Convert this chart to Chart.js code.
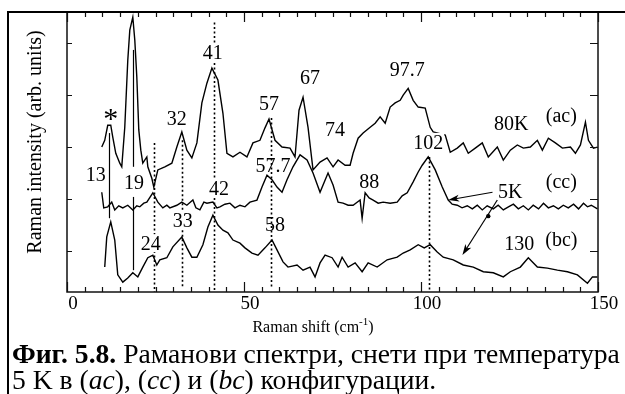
<!DOCTYPE html>
<html><head><meta charset="utf-8">
<script src="https://cdn.jsdelivr.net/npm/chart.js@4"></script>
<style>
html,body{margin:0;padding:0;background:#fff;}
#wrap{position:relative;width:625px;height:394px;overflow:hidden;background:#fff;}
#c{position:absolute;left:0;top:0;}
#frame{position:absolute;left:7px;top:11px;width:640px;height:400px;border-left:2px solid #000;border-top:2px solid #000;pointer-events:none;}
.cap{position:absolute;left:12px;font-family:"Liberation Serif","Times New Roman",serif;color:#000;white-space:nowrap;line-height:1;}
</style></head>
<body>
<div id="wrap">
<canvas id="c" width="625" height="394"></canvas>
<div id="frame"></div>
<div class="cap" id="cap1"><b>Фиг. 5.8.</b> Раманови спектри, снети при температура</div>
<div class="cap" id="cap2">5 K в (<i>ac</i>), (<i>cc</i>) и (<i>bc</i>) конфигурации.</div>
</div>
<script>
// ---------- data (Raman shift in cm^-1, intensity in arb. units, traces offset) ----------
const acShift = [9.82,10.66,11.51,12.36,12.93,13.78,14.91,15.47,16.32,17.17,17.74,18.59,19.15,19.72,20.28,20.85,21.41,22.55,22.83,23.96,24.52,25.66,27.64,29.62,31.03,32.44,33.86,35.27,36.69,38.10,39.52,40.93,42.63,44.05,45.18,46.88,48.86,50.83,52.53,54.51,55.93,57.06,58.76,60.74,63.00,64.41,65.54,66.68,68.09,69.50,71.48,73.46,75.16,76.58,78.56,79.97,80.82,82.24,83.65,85.64,87.05,88.46,89.88,91.29,92.70,94.12,94.97,96.38,97.79,99.21,101.19,102.60,103.45,106.85,108.26,110.24,111.94,113.35,115.33,117.31,119.01,121.56,123.25,125.23,127.21,128.91,130.89,132.87,134.28,135.98,137.96,139.94,142.21,143.62,145.04,146.45,147.30,148.71,149.85];
const acIntensity = [3.00,3.13,3.42,3.42,3.19,2.88,2.69,2.62,3.38,4.67,5.25,5.50,5.06,4.35,3.33,2.94,2.69,2.81,2.62,2.40,2.23,2.56,2.62,2.69,3.00,3.29,2.94,2.79,3.08,3.85,4.23,4.52,4.29,3.65,2.88,2.81,2.90,2.81,3.08,3.13,3.37,3.54,3.13,3.00,2.98,2.81,3.71,3.96,3.38,2.56,2.71,2.79,2.62,2.75,2.65,2.65,2.88,3.17,3.27,3.38,3.46,3.58,3.46,3.77,3.85,3.90,4.00,4.13,3.90,3.77,3.75,3.38,3.29,3.23,2.90,2.98,3.08,2.88,2.98,3.08,2.81,3.00,2.75,2.94,3.04,2.98,3.00,3.13,2.94,3.17,3.08,2.98,3.00,2.88,3.04,3.48,3.13,2.98,3.00];

const ccShift = [9.82,10.38,11.51,12.64,13.49,14.62,15.76,17.17,18.59,19.72,20.57,21.70,22.55,24.25,25.66,27.07,28.20,29.05,31.03,32.44,33.86,35.56,36.41,37.54,38.67,39.52,41.22,42.35,43.20,44.61,46.03,47.44,48.86,50.27,51.68,53.66,55.08,56.49,57.91,59.32,60.74,62.15,63.84,65.83,67.81,69.50,71.48,73.74,75.16,76.58,77.99,79.41,80.82,82.80,83.37,84.22,85.35,86.48,87.90,89.31,91.29,93.27,94.68,96.10,97.79,99.21,100.34,102.04,104.02,106.00,107.69,108.80,110.24,111.60,113.07,114.50,115.90,117.31,118.70,120.42,121.80,123.25,124.70,126.10,127.50,128.91,130.32,131.70,133.20,134.60,135.98,137.40,138.80,140.20,141.60,143.10,144.50,145.90,147.02,148.10,149.85];
const ccIntensity = [2.13,1.83,1.85,1.94,1.79,1.87,1.83,1.88,1.79,1.87,1.85,1.92,1.94,2.12,1.94,1.83,1.88,1.83,1.88,1.94,1.88,1.98,1.83,1.79,1.94,1.92,1.94,1.83,1.85,1.90,1.92,1.83,1.88,1.85,1.94,1.98,2.23,2.46,2.37,2.23,2.13,2.37,2.62,2.85,2.75,2.50,2.13,2.50,2.27,1.94,1.92,1.88,1.88,1.98,1.63,2.12,2.02,1.98,1.92,1.94,1.92,1.94,2.06,2.12,2.33,2.52,2.65,2.81,2.56,2.23,1.98,1.90,1.88,1.83,1.87,1.81,1.88,1.79,1.87,1.81,1.88,1.79,1.85,1.90,1.81,1.87,1.79,1.88,1.81,1.92,1.83,1.87,1.81,1.88,1.83,1.90,1.81,1.92,1.85,1.88,1.81];

const bcShift = [10.66,11.23,12.36,13.49,14.34,15.76,17.17,18.59,20.00,21.41,22.83,24.25,25.37,26.22,28.20,29.90,32.44,33.86,35.27,36.69,38.39,39.80,41.22,42.63,44.05,45.46,46.88,48.86,50.27,52.25,53.95,55.93,57.91,59.32,61.02,62.43,64.98,66.68,68.65,70.07,71.48,72.90,74.88,76.58,77.71,79.41,81.39,83.37,85.07,87.62,90.44,93.27,94.97,96.95,99.21,100.91,102.60,104.58,106.28,109.11,111.94,114.77,117.60,120.42,123.25,125.23,128.06,130.32,132.87,135.70,138.53,141.36,144.19,147.02,148.43,149.85];
const bcIntensity = [0.69,1.27,1.56,1.21,0.54,0.40,0.48,0.58,0.50,0.69,0.87,0.92,0.73,0.83,0.87,1.08,1.27,1.06,0.88,0.88,1.12,1.46,1.69,1.50,1.40,1.35,1.21,1.15,1.06,0.96,0.92,1.06,1.21,1.02,0.79,0.69,0.73,0.63,0.69,0.50,0.77,0.92,0.87,0.69,0.88,0.69,0.77,0.60,0.77,0.69,0.83,0.88,0.96,1.02,1.12,1.06,1.12,0.98,0.88,0.83,0.73,0.69,0.60,0.58,0.50,0.60,0.69,0.87,0.69,0.67,0.63,0.60,0.54,0.38,0.50,0.50];

const xTickStep = 5;                 // minor ticks every 5 cm^-1, labels every 50
const xLabelEvery = 50;
const yTickValues = [1, 2, 3, 4, 5];

// peak markers (vertical lines): shift, top intensity, bottom intensity, dotted?
const markerShift     = [11.8, 18.6, 18.6, 24.5, 32.6, 41.5, 57.6, 102.3];
const markerTop       = [3.27, 4.87, 2.04, 3.08, 3.13, 5.40, 3.56, 2.81];
const markerBottom    = [1.63, 2.62, 0.63, 0.21, 0.31, 0.21, 0.29, 0.21];
const markerDotted    = [false, false, false, true, true, true, true, true];

// annotation texts anchored in data coordinates
const peakLabels     = ['*','13','19','32','41','57','67','57.7','74','97.7','102','88','80K','(ac)','(cc)','5K','130','(bc)','42','33','24','58'];
const labelShift     = [12.36, 8.12, 18.9, 31.0, 41.2, 57.06, 68.65, 58.2, 75.73, 96.10, 102.04, 85.35, 125.5, 139.65, 139.65, 125.23, 127.77, 139.65, 42.91, 32.73, 23.68, 58.76];
const labelIntensity = [3.63, 2.48, 2.33, 3.56, 4.83, 3.85, 4.35, 2.65, 3.35, 4.50, 3.10, 2.35, 3.46, 3.58, 2.31, 2.15, 1.15, 1.19, 2.21, 1.60, 1.15, 1.52];
const maskedLabels   = ['19','41','102','42','33','24'];

// arrows from "5K"
const arrowStartShift = [120.2, 121.56];
const arrowStartInt   = [2.13, 1.98];
const arrowEndShift   = [107.7, 111.7];
const arrowEndInt     = [1.98, 0.92];
const dotShift = [119.0];
const dotInt   = [1.67];

// ---------- rendering ----------
const FONT = '"Liberation Serif", "Times New Roman", serif';
const pairs = (xs, ys) => xs.slice(0, Math.min(xs.length, ys.length)).map((x, i) => ({x, y: ys[i]}));
const lineDs = (xs, ys) => ({data: pairs(xs, ys), borderColor: '#000', borderWidth: 1.4, pointRadius: 0, tension: 0, fill: false});

const decor = {
  id: 'decor',
  afterDatasetsDraw(chart) {
    const {ctx, chartArea: a, scales: {x, y}} = chart;
    const X = v => x.getPixelForValue(v), Y = v => y.getPixelForValue(v);
    ctx.save();
    ctx.strokeStyle = '#000'; ctx.fillStyle = '#000';
    // vertical peak markers
    for (let i = 0; i < markerShift.length; i++) {
      const px = Math.round(X(markerShift[i])) + 0.5;
      ctx.beginPath();
      ctx.lineWidth = markerDotted[i] ? 1.6 : 1.2;
      ctx.setLineDash(markerDotted[i] ? [2, 2.5] : []);
      ctx.moveTo(px, Y(markerTop[i])); ctx.lineTo(px, Y(markerBottom[i]));
      ctx.stroke();
    }
    ctx.setLineDash([]);
    // arrows
    for (let i = 0; i < arrowStartShift.length; i++) {
      const x0 = X(arrowStartShift[i]), y0 = Y(arrowStartInt[i]);
      const x1 = X(arrowEndShift[i]), y1 = Y(arrowEndInt[i]);
      const ang = Math.atan2(y1 - y0, x1 - x0);
      ctx.lineWidth = 1.2;
      ctx.beginPath(); ctx.moveTo(x0, y0); ctx.lineTo(x1 - 6 * Math.cos(ang), y1 - 6 * Math.sin(ang)); ctx.stroke();
      ctx.beginPath();
      ctx.moveTo(x1, y1);
      ctx.lineTo(x1 - 11 * Math.cos(ang) + 3.5 * Math.sin(ang), y1 - 11 * Math.sin(ang) - 3.5 * Math.cos(ang));
      ctx.lineTo(x1 - 8 * Math.cos(ang), y1 - 8 * Math.sin(ang));
      ctx.lineTo(x1 - 11 * Math.cos(ang) - 3.5 * Math.sin(ang), y1 - 11 * Math.sin(ang) + 3.5 * Math.cos(ang));
      ctx.closePath(); ctx.fill();
    }
    for (let i = 0; i < dotShift.length; i++) {
      ctx.beginPath(); ctx.arc(X(dotShift[i]), Y(dotInt[i]), 2.2, 0, Math.PI * 2); ctx.fill();
    }
    // annotation labels
    for (let i = 0; i < peakLabels.length; i++) {
      const t = peakLabels[i];
      const size = t === '*' ? 30 : 20;
      ctx.font = `${size}px ${FONT}`;
      ctx.textAlign = 'center'; ctx.textBaseline = 'alphabetic';
      const m = ctx.measureText(t);
      const cx = X(labelShift[i]), cy = Y(labelIntensity[i]);
      const by = cy + (m.actualBoundingBoxAscent - m.actualBoundingBoxDescent) / 2;
      if (maskedLabels.includes(t)) {
        ctx.fillStyle = '#fff';
        ctx.fillRect(cx - m.width / 2 - 1, by - m.actualBoundingBoxAscent - 2, m.width + 2, m.actualBoundingBoxAscent + m.actualBoundingBoxDescent + 4);
        ctx.fillStyle = '#000';
      }
      ctx.fillText(t, cx, by);
    }
    // plot frame
    ctx.lineWidth = 1.5; ctx.strokeStyle = '#111';
    ctx.strokeRect(a.left, a.top, a.right - a.left, a.bottom - a.top);
    // inward tick marks
    ctx.lineWidth = 1.2;
    x.ticks.forEach(t => {
      const px = Math.round(X(t.value)) + 0.5;
      const len = t.value % xLabelEvery === 0 ? 10 : 5;
      ctx.beginPath();
      ctx.moveTo(px, a.bottom); ctx.lineTo(px, a.bottom - len);
      ctx.moveTo(px, a.top); ctx.lineTo(px, a.top + len);
      ctx.stroke();
    });
    y.ticks.forEach(t => {
      const py = Math.round(Y(t.value)) + 0.5;
      ctx.beginPath();
      ctx.moveTo(a.left, py); ctx.lineTo(a.left + 5, py);
      ctx.moveTo(a.right, py); ctx.lineTo(a.right - 8, py);
      ctx.stroke();
    });
    // axis titles
    ctx.fillStyle = '#000';
    ctx.save();
    ctx.translate(36, a.top + 130);
    ctx.rotate(-Math.PI / 2);
    ctx.font = `20px ${FONT}`; ctx.textAlign = 'center'; ctx.textBaseline = 'middle';
    ctx.fillText('Raman intensity (arb. units)', 0, 0);
    ctx.restore();
    const t1 = 'Raman shift (cm', t2 = '-1', t3 = ')';
    ctx.font = `16px ${FONT}`; const w1 = ctx.measureText(t1).width, w3 = ctx.measureText(t3).width;
    ctx.font = `11px ${FONT}`; const w2 = ctx.measureText(t2).width;
    let sx = a.left + 246 - (w1 + w2 + w3) / 2;
    const base = a.bottom + 40;
    ctx.textAlign = 'left'; ctx.textBaseline = 'alphabetic';
    ctx.font = `16px ${FONT}`; ctx.fillText(t1, sx, base); sx += w1;
    ctx.font = `11px ${FONT}`; ctx.fillText(t2, sx, base - 7); sx += w2;
    ctx.font = `16px ${FONT}`; ctx.fillText(t3, sx, base);
    ctx.restore();
  }
};

new Chart(document.getElementById('c'), {
  type: 'line',
  data: {datasets: [lineDs(acShift, acIntensity), lineDs(ccShift, ccIntensity), lineDs(bcShift, bcIntensity)]},
  options: {
    responsive: false, animation: false, devicePixelRatio: 1, events: [],
    layout: {padding: {left: 0, top: 12, right: 27, bottom: 52}},
    plugins: {legend: {display: false}, tooltip: {enabled: false}},
    scales: {
      x: {
        type: 'linear', min: 0, max: 150,
        grid: {display: false, drawTicks: false}, border: {display: false},
        ticks: {stepSize: xTickStep, autoSkip: false, maxRotation: 0, minRotation: 0, padding: 1, labelOffset: 6,
          color: '#000', font: {family: FONT, size: 19},
          callback: v => (v % xLabelEvery === 0 ? String(v) : '')},
        afterFit: s => { s.height = 50; }
      },
      y: {
        type: 'linear', min: 0.21, max: 5.6,
        grid: {display: false, drawTicks: false}, border: {display: false},
        ticks: {display: false},
        afterBuildTicks: s => { s.ticks = yTickValues.map(v => ({value: v})); },
        afterFit: s => { s.width = 67; }
      }
    }
  },
  plugins: [decor]
});

// caption sizing: line 1 spans the figure width
(function () {
  const c1 = document.getElementById('cap1'), c2 = document.getElementById('cap2');
  c1.style.fontSize = '100px';
  const w = c1.getBoundingClientRect().width;
  const fs = 100 * 608 / w;
  c1.style.fontSize = fs + 'px'; c2.style.fontSize = fs + 'px';
  c1.style.top = (363 - 0.8375 * fs) + 'px';
  c2.style.top = (389 - 0.8375 * fs) + 'px';
})();
</script>
</body></html>
